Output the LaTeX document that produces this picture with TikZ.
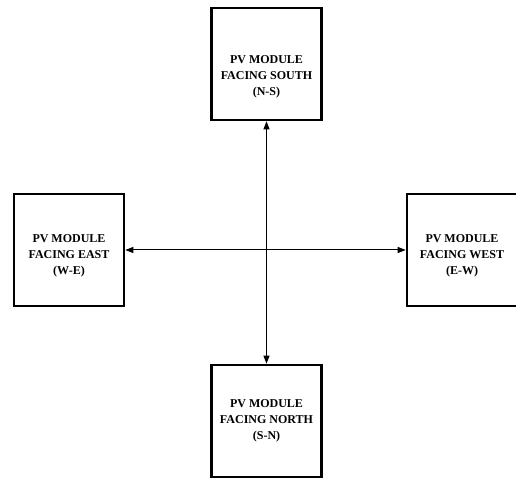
\documentclass[tikz,border=0pt]{standalone}
\usepackage{fontspec}
\setmainfont{Liberation Serif}
\usetikzlibrary{arrows.meta}
\begin{document}
\begin{tikzpicture}[x=1pt,y=1pt,
  module/.style={draw, line width=2.6pt, minimum width=110pt, minimum height=112pt,
    inner sep=0pt},
  caption/.style={align=center, inner sep=0pt, font=\bfseries\fontsize{12}{16}\selectfont},
  link/.style={line width=1pt,
    {Triangle[length=8pt,width=6pt]}-{Triangle[length=8pt,width=6pt]}}]
\useasboundingbox (0,0) rectangle (516,481);
% the four orientations of the module
\node[module] (south) at (266.5,417) {};
\node[module] (east)  at (69,231)    {};
\node[module] (west)  at (462,231)   {};
\node[module] (north) at (266.5,60)  {};
% their captions, set a little below each box centre
\node[caption] (southtxt) at ([yshift=-12.5pt]south.center) {PV MODULE\\FACING SOUTH\\(N-S)};
\node[caption] (easttxt)  at ([yshift=-5.5pt]east.center)   {PV MODULE\\FACING EAST\\(W-E)};
\node[caption] (westtxt)  at ([yshift=-5.5pt]west.center)   {PV MODULE\\FACING WEST\\(E-W)};
\node[caption] (northtxt) at (north.center)                 {PV MODULE\\FACING NORTH\\(S-N)};
% crossing double-headed connectors
\draw[link] (south) -- (north);
\draw[link] (east) -- (west);
\end{tikzpicture}
\end{document}
